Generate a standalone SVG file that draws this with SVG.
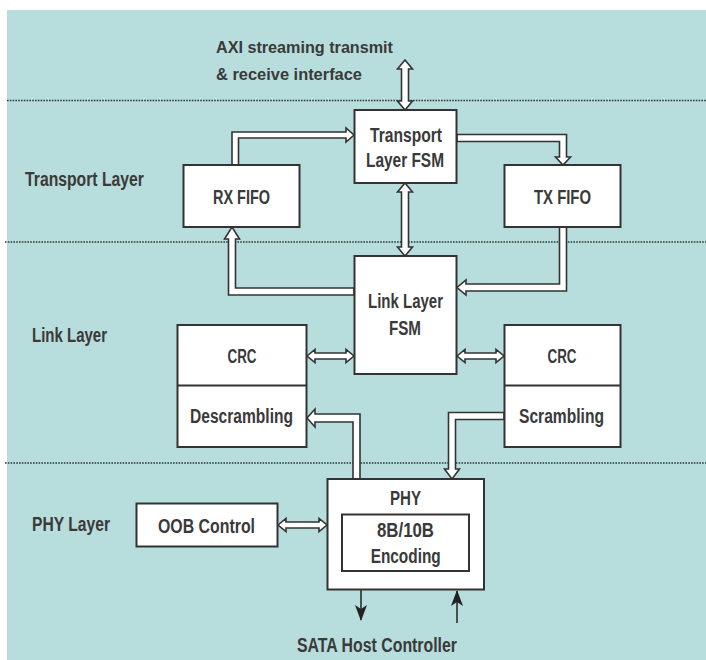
<svg xmlns="http://www.w3.org/2000/svg" width="706" height="660" viewBox="0 0 706 660">
<defs>
<style>
.bg{fill:#b7dddc}
.sep{stroke:#2f3a3a;stroke-width:1.3;stroke-dasharray:1.6 1.2;fill:none}
.box{fill:#ffffff;stroke:#333333;stroke-width:2}
.hol{fill:#ffffff;stroke:#333333;stroke-width:1.6;stroke-linejoin:miter}
.ln{stroke:#222222;stroke-width:1.5;fill:none}
text{font-family:"Liberation Sans",Arial,sans-serif;font-weight:bold;fill:#3a3a3a;font-size:20px}
.c{text-anchor:middle}
.s{font-size:17px}
</style>
<marker id="barb" viewBox="0 0 16 12" refX="15" refY="6" markerWidth="16" markerHeight="12" markerUnits="userSpaceOnUse" orient="auto">
<path d="M0,0 L16,6 L0,12 L4,6 Z" fill="#222222"/>
</marker>
</defs>
<rect class="bg" x="7" y="10" width="699" height="650"/>
<g id="separators">
<line class="sep" x1="7" y1="100.5" x2="706" y2="100.5"/>
<line class="sep" x1="5" y1="242" x2="706" y2="242"/>
<line class="sep" x1="5" y1="463" x2="706" y2="463"/>
</g>
<g id="layer-labels">
<text class="s" x="216" y="53" textLength="177" lengthAdjust="spacingAndGlyphs">AXI streaming transmit</text>
<text class="s" x="216" y="80" textLength="146" lengthAdjust="spacingAndGlyphs">&amp; receive interface</text>
<text x="25" y="186" textLength="119" lengthAdjust="spacingAndGlyphs">Transport Layer</text>
<text x="32" y="342" textLength="75" lengthAdjust="spacingAndGlyphs">Link Layer</text>
<text x="32" y="531" textLength="78" lengthAdjust="spacingAndGlyphs">PHY Layer</text>
<text class="c" x="377" y="652" textLength="160" lengthAdjust="spacingAndGlyphs">SATA Host Controller</text>
</g>
<g id="connectors">
<path class="hol" d="M405,60 L412.5,69 L408.5,69 L408.5,101 L412.5,101 L405,110 L397.5,101 L401.5,101 L401.5,69 L397.5,69 Z"/>
<path class="hol" d="M405,183 L412.5,192 L408.5,192 L408.5,247 L412.5,247 L405,256 L397.5,247 L401.5,247 L401.5,192 L397.5,192 Z"/>
<path class="hol" d="M232,165 L232,132 L346,132 L346,128 L354,135 L346,142 L346,138 L238.5,138 L238.5,165 Z"/>
<path class="hol" d="M457,134.5 L566.5,134.5 L566.5,157 L570.5,157 L563,165 L555.5,157 L559.5,157 L559.5,141.5 L457,141.5 Z"/>
<path class="hol" d="M559.5,227 L559.5,284 L466,284 L466,280 L457,287.5 L466,295 L466,291 L566.5,291 L566.5,227 Z"/>
<path class="hol" d="M354,288 L235.5,288 L235.5,239 L239.5,239 L232,227 L224.5,239 L228.5,239 L228.5,295 L354,295 Z"/>
<path class="hol" d="M307,356 L315,349.5 L315,353 L346,353 L346,349.5 L354,356 L346,362.5 L346,359 L315,359 L315,362.5 Z"/>
<path class="hol" d="M457,356 L465,349.5 L465,353 L496,353 L496,349.5 L504,356 L496,362.5 L496,359 L465,359 L465,362.5 Z"/>
<path class="hol" d="M353,479 L353,422 L315,422 L315,427 L307,418 L315,409 L315,414 L360,414 L360,479 Z"/>
<path class="hol" d="M504,412.5 L448.5,412.5 L448.5,469 L444.5,469 L452,479 L459.5,469 L455.5,469 L455.5,419.5 L504,419.5 Z"/>
<path class="hol" d="M278,525 L286,518.5 L286,522 L319,522 L319,518.5 L327,525 L319,531.5 L319,528 L286,528 L286,531.5 Z"/>
<line class="ln" x1="361" y1="590" x2="361" y2="620" marker-end="url(#barb)"/>
<line class="ln" x1="457" y1="623" x2="457" y2="591" marker-end="url(#barb)"/>
</g>
<g id="transport-fsm">
<rect class="box" x="354.5" y="110" width="102" height="73"/>
<text class="c" x="406" y="142" textLength="72" lengthAdjust="spacingAndGlyphs">Transport</text>
<text class="c" x="405" y="167" textLength="78" lengthAdjust="spacingAndGlyphs">Layer FSM</text>
</g>
<g id="rx-fifo">
<rect class="box" x="183.5" y="165" width="116" height="62"/>
<text class="c" x="241.5" y="204" textLength="57" lengthAdjust="spacingAndGlyphs">RX FIFO</text>
</g>
<g id="tx-fifo">
<rect class="box" x="504.5" y="165" width="116" height="62"/>
<text class="c" x="562.5" y="203.5" textLength="57" lengthAdjust="spacingAndGlyphs">TX FIFO</text>
</g>
<g id="link-fsm">
<rect class="box" x="354.5" y="256" width="102" height="118"/>
<text class="c" x="405.5" y="308" textLength="75" lengthAdjust="spacingAndGlyphs">Link Layer</text>
<text class="c" x="405" y="335" textLength="32" lengthAdjust="spacingAndGlyphs">FSM</text>
</g>
<g id="crc-descrambling">
<rect class="box" x="177.5" y="325" width="129" height="122"/>
<line class="box" x1="177.5" y1="385.5" x2="306.5" y2="385.5"/>
<text class="c" x="242" y="363" textLength="29" lengthAdjust="spacingAndGlyphs">CRC</text>
<text class="c" x="241.5" y="423" textLength="103" lengthAdjust="spacingAndGlyphs">Descrambling</text>
</g>
<g id="crc-scrambling">
<rect class="box" x="504.5" y="325" width="116" height="122"/>
<line class="box" x1="504.5" y1="385.5" x2="620.5" y2="385.5"/>
<text class="c" x="562" y="363" textLength="29" lengthAdjust="spacingAndGlyphs">CRC</text>
<text class="c" x="561.5" y="423" textLength="85" lengthAdjust="spacingAndGlyphs">Scrambling</text>
</g>
<g id="phy">
<rect class="box" x="327.5" y="479" width="156.5" height="110.5"/>
<text class="c" x="405.5" y="505" textLength="31" lengthAdjust="spacingAndGlyphs">PHY</text>
<rect class="box" x="342" y="514.5" width="127" height="56.5"/>
<text class="c" x="405.5" y="537" textLength="57" lengthAdjust="spacingAndGlyphs">8B/10B</text>
<text class="c" x="405.7" y="563" textLength="70" lengthAdjust="spacingAndGlyphs">Encoding</text>
</g>
<g id="oob-control">
<rect class="box" x="136.5" y="503.5" width="141" height="43"/>
<text class="c" x="206.5" y="533" textLength="97" lengthAdjust="spacingAndGlyphs">OOB Control</text>
</g>
</svg>
